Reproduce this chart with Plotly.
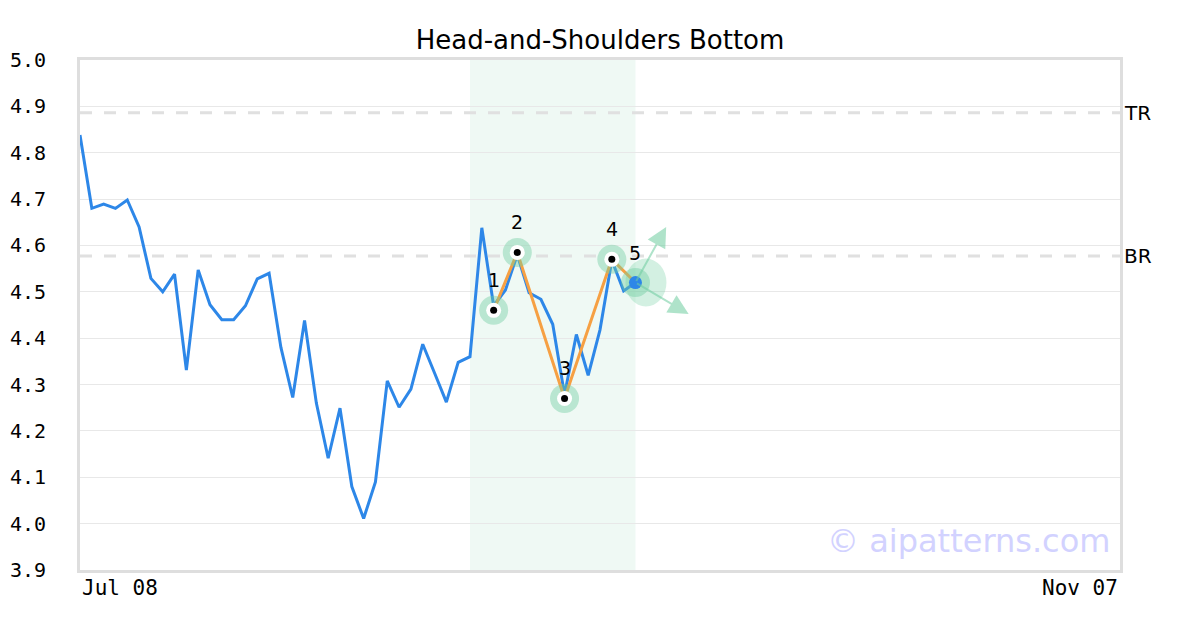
import plotly.graph_objects as go

# ---- data ----
prices = [4.838, 4.680, 4.689, 4.680, 4.698, 4.640, 4.529, 4.500, 4.538, 4.331,
          4.547, 4.472, 4.440, 4.440, 4.470, 4.528, 4.540, 4.380, 4.272, 4.438,
          4.260, 4.141, 4.249, 4.080, 4.011, 4.090, 4.308, 4.251, 4.290, 4.387,
          4.325, 4.262, 4.348, 4.360, 4.638, 4.470, 4.504, 4.580, 4.498, 4.484,
          4.430, 4.278, 4.408, 4.320, 4.418, 4.568, 4.502, 4.520]
days = list(range(len(prices)))

pattern_idx = [35, 37, 41, 45, 47]
pattern_val = [4.46, 4.585, 4.27, 4.57, 4.52]
pattern_lbl = ["1", "2", "3", "4", "5"]

tr_level = 4.886
br_level = 4.577
zone = [33, 47]
arrow_heads_x = [49.6, 51.5]
arrow_heads_y = [4.64, 4.452]

x_range = [0, 88]
y_range = [3.9, 5.0]
y_ticks = [3.9, 4.0, 4.1, 4.2, 4.3, 4.4, 4.5, 4.6, 4.7, 4.8, 4.9, 5.0]
x_tick_labels = ["Jul 08", "Nov 07"]

GREEN = "rgba(110,205,160,0.42)"
BLUE = "#2d87e8"
ORANGE = "#f6a043"

fig = go.Figure()

# shaded pattern zone
fig.add_shape(type="rect", xref="x", yref="paper", x0=zone[0], x1=zone[1], y0=0, y1=1,
              fillcolor="rgba(190,230,210,0.25)", line_width=0, layer="below")

# TR / BR lines
for lvl in (tr_level, br_level):
    fig.add_shape(type="line", xref="paper", yref="y", x0=0, x1=1, y0=lvl, y1=lvl,
                  line=dict(color="#e0e0e0", width=3, dash="12px,12px"), layer="between")

# blob at point 5
fig.add_shape(type="circle", xref="x", yref="y", xsizemode="pixel", ysizemode="pixel",
              xanchor=pattern_idx[-1], yanchor=pattern_val[-1],
              x0=-10, x1=31, y0=-24, y1=24,
              fillcolor="rgba(110,205,160,0.30)", line_width=0, layer="between")

# price line
fig.add_trace(go.Scatter(x=days, y=prices, mode="lines",
                         line=dict(color=BLUE, width=3), hoverinfo="skip"))

# pattern line
fig.add_trace(go.Scatter(x=pattern_idx, y=pattern_val, mode="lines",
                         line=dict(color=ORANGE, width=3), hoverinfo="skip"))

# green rings
fig.add_trace(go.Scatter(x=pattern_idx, y=pattern_val, mode="markers",
                         marker=dict(size=29, color=GREEN, line_width=0), hoverinfo="skip"))
# white + black for 1-4
fig.add_trace(go.Scatter(x=pattern_idx[:4], y=pattern_val[:4], mode="markers",
                         marker=dict(size=15, color="white", line_width=0), hoverinfo="skip"))
fig.add_trace(go.Scatter(x=pattern_idx[:4], y=pattern_val[:4], mode="markers",
                         marker=dict(size=7, color="black", line_width=0), hoverinfo="skip"))
# blue dot at point 5
fig.add_trace(go.Scatter(x=pattern_idx[4:], y=pattern_val[4:], mode="markers",
                         marker=dict(size=13, color=BLUE, line_width=0), hoverinfo="skip"))

annotations = []
for xi, yv, t in zip(pattern_idx, pattern_val, pattern_lbl):
    annotations.append(dict(x=xi, y=yv, text=t, showarrow=False, yshift=30,
                            font=dict(family="DejaVu Sans", size=19, color="black")))

for hx, hy in zip(arrow_heads_x, arrow_heads_y):
    annotations.append(dict(x=hx, y=hy, ax=pattern_idx[-1], ay=pattern_val[-1],
                            xref="x", yref="y", axref="x", ayref="y", text="",
                            showarrow=True, arrowhead=2, arrowsize=2, arrowwidth=2,
                            arrowcolor="rgba(110,205,160,0.55)"))

for lvl, name in ((tr_level, "TR"), (br_level, "BR")):
    annotations.append(dict(x=1, y=lvl, xref="paper", yref="y", text=name, showarrow=False,
                            xanchor="left", xshift=2,
                            font=dict(family="DejaVu Sans", size=20, color="black")))

annotations.append(dict(x=0, y=0, xref="paper", yref="paper", text=x_tick_labels[0],
                        showarrow=False, xanchor="left", yanchor="top", yshift=-4,
                        font=dict(family="DejaVu Sans Mono", size=21, color="black")))
annotations.append(dict(x=1, y=0, xref="paper", yref="paper", text=x_tick_labels[1],
                        showarrow=False, xanchor="right", yanchor="top", yshift=-4,
                        font=dict(family="DejaVu Sans Mono", size=21, color="black")))

annotations.append(dict(x=1, y=0, xref="paper", yref="paper", text="© aipatterns.com",
                        showarrow=False, xanchor="right", yanchor="bottom",
                        xshift=-8, yshift=8,
                        font=dict(family="DejaVu Sans", size=32, color="#d2d2ff")))

# page body has an 8px margin: compensate so the plot lands at 80..1120 x 60..570
fig.update_layout(
    width=1200, height=630,
    margin=dict(l=72, r=88, t=52, b=68, autoexpand=False),
    paper_bgcolor="white", plot_bgcolor="white",
    showlegend=False,
    title=dict(text="Head-and-Shoulders Bottom", x=592 / 1200, xanchor="center",
               y=1 - 32 / 630, yanchor="middle", automargin=False,
               font=dict(family="DejaVu Sans", size=26, color="black")),
    annotations=annotations,
    xaxis=dict(range=x_range, showgrid=False, zeroline=False, showticklabels=False,
               showline=True, linecolor="#dedede", linewidth=3, mirror=True, ticks="",
               automargin=False),
    yaxis=dict(range=y_range, tickvals=y_ticks, ticktext=[f"{v:.1f}" for v in y_ticks],
               showgrid=True, gridcolor="#e8e8e8", gridwidth=1, zeroline=False,
               showline=True, linecolor="#dedede", linewidth=3, mirror=True, ticks="",
               ticklabelstandoff=27, automargin=False,
               tickfont=dict(family="DejaVu Sans Mono", size=20, color="black")),
)

fig.write_html("out.html")
